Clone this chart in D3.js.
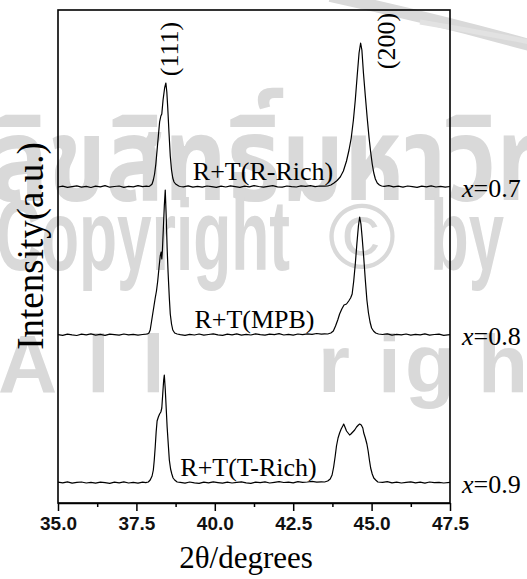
<!DOCTYPE html>
<html>
<head>
<meta charset="utf-8">
<script src="https://cdn.jsdelivr.net/npm/d3@7"></script>
<style>
  html, body { margin: 0; padding: 0; background: #fff; }
  svg { display: block; }
</style>
</head>
<body>
<svg id="chart" width="527" height="579"></svg>
<script>
// XRD patterns of the three compositions, stacked with a vertical offset (a.u.)
const compositions = ["x=0.7", "x=0.8", "x=0.9"];
const phaseLabels = ["R+T(R-Rich)", "R+T(MPB)", "R+T(T-Rich)"];
const offsets = [315, 167, 19];
const xTicks = [35.0, 37.5, 40.0, 42.5, 45.0, 47.5];
const xMinorTicks = [36.25, 38.75, 41.25, 43.75, 46.25];
const reflections = [{ hkl: "(111)", at: 38.55 }, { hkl: "(200)", at: 45.45 }];

// [2θ, intensity] for x = 0.7
const pattern07 = [
  [35.00,1.0],[35.15,1.8],[35.30,0.6],[35.45,1.4],[35.60,2.2],[35.75,0.9],[35.90,1.6],[36.05,0.5],
  [36.20,1.9],[36.35,1.1],[36.50,2.4],[36.65,0.8],[36.80,1.5],[36.95,2.0],[37.10,0.7],[37.25,1.7],
  [37.40,1.2],[37.55,2.3],[37.70,1.4],[37.82,1.8],
  [37.90,1.5],[37.95,2.5],[38.00,4],[38.04,8],[38.08,14],[38.12,24],[38.16,38],[38.20,52],[38.24,66],
  [38.28,72],[38.31,74],[38.35,88],[38.40,100],[38.44,105],[38.47,96],[38.50,80],[38.54,55],[38.58,32],
  [38.62,18],[38.66,10],[38.70,6],[38.75,4],[38.80,3],[38.85,2],[38.90,1.5],
  [39.00,1.2],[39.15,2.1],[39.30,0.8],[39.45,1.6],[39.60,0.9],[39.75,2.0],[39.90,1.3],[40.05,0.6],
  [40.20,1.8],[40.35,1.0],[40.50,2.2],[40.65,1.4],[40.80,0.7],[40.95,1.9],[41.10,1.1],[41.25,2.4],
  [41.40,1.5],[41.55,0.9],[41.70,1.7],[41.85,2.3],[42.00,1.2],[42.15,0.8],[42.30,2.0],[42.45,1.4],
  [42.60,1.0],[42.75,2.1],[42.90,1.6],[43.05,2.4],[43.20,1.3],[43.35,2.0],[43.50,1.8],
  [43.60,2],[43.70,3],[43.80,5],[43.90,7.5],[44.00,11],[44.10,17],[44.20,27],[44.28,38],[44.35,50],
  [44.42,68],[44.48,88],[44.54,112],[44.60,135],[44.65,145],[44.69,138],[44.74,115],[44.80,92],
  [44.86,70],[44.92,50],[44.97,36],[45.02,24],[45.07,15],[45.12,9],[45.18,5],[45.25,3],[45.32,2],
  [45.40,1.6],[45.55,2.3],[45.70,1.1],[45.85,1.8],[46.00,0.9],[46.15,2.0],[46.30,1.4],[46.45,0.7],
  [46.60,1.9],[46.75,1.2],[46.90,2.2],[47.05,1.0],[47.20,1.7],[47.35,0.8],[47.50,1.5]
];

// [2θ, intensity] for x = 0.8
const pattern08 = [
  [35.00,1.4],[35.15,0.7],[35.30,1.9],[35.45,1.1],[35.60,0.5],[35.75,1.8],[35.90,1.2],[36.05,2.1],
  [36.20,0.9],[36.35,1.6],[36.50,0.6],[36.65,1.9],[36.80,1.3],[36.95,0.8],[37.10,2.0],[37.25,1.1],
  [37.40,1.7],[37.55,0.9],[37.70,1.5],[37.80,1.8],
  [37.85,2],[37.90,3],[37.94,6],[37.98,14],[38.02,22],[38.06,30],[38.10,38],[38.14,45],[38.18,55],
  [38.22,68],[38.26,80],[38.29,84],[38.31,77],[38.33,86],[38.36,108],[38.39,130],[38.42,146],
  [38.45,120],[38.48,88],[38.51,64],[38.55,38],[38.58,22],[38.62,12],[38.66,6],[38.72,3],[38.80,2],
  [38.90,1.3],[39.05,0.6],[39.20,1.7],[39.35,1.0],[39.50,2.0],[39.65,0.8],[39.80,1.5],[39.95,2.2],
  [40.10,1.1],[40.25,0.7],[40.40,1.8],[40.55,1.2],[40.70,2.1],[40.85,0.9],[41.00,1.6],[41.15,1.0],
  [41.30,2.2],[41.45,1.4],[41.60,0.8],[41.75,1.9],[41.90,1.3],[42.05,2.3],[42.20,1.0],[42.35,1.7],
  [42.50,0.9],[42.65,2.0],[42.80,1.4],[42.95,2.2],[43.10,1.6],[43.25,2.5],[43.40,1.9],[43.50,2.1],
  [43.60,2],[43.70,3],[43.78,5],[43.85,10],[43.92,16],[43.98,22],[44.05,27],[44.12,31],[44.20,32],
  [44.27,35],[44.33,38],[44.38,42],[44.43,55],[44.48,72],[44.53,92],[44.58,110],[44.62,119],
  [44.66,112],[44.70,98],[44.75,78],[44.80,56],[44.85,36],[44.90,23],[44.95,14],[45.00,8],
  [45.06,5],[45.13,3],[45.22,2],
  [45.35,1.5],[45.50,2.2],[45.65,0.9],[45.80,1.7],[45.95,1.1],[46.10,2.0],[46.25,0.8],[46.40,1.6],
  [46.55,1.2],[46.70,2.1],[46.85,0.9],[47.00,1.5],[47.15,1.9],[47.30,0.7],[47.50,1.3]
];

// [2θ, intensity] for x = 0.9
const pattern09 = [
  [35.00,1.8],[35.15,1.1],[35.30,2.2],[35.45,0.9],[35.60,1.6],[35.75,2.0],[35.90,1.0],[36.05,1.7],
  [36.20,0.8],[36.35,1.9],[36.50,1.3],[36.65,0.7],[36.80,1.8],[36.95,1.2],[37.10,2.1],[37.25,1.0],
  [37.40,1.6],[37.55,0.9],[37.70,1.9],[37.80,1.4],
  [37.88,2],[37.94,4],[38.00,8],[38.04,14],[38.07,24],[38.10,37],[38.13,52],[38.16,63],[38.20,67],
  [38.24,70],[38.28,72],[38.31,76],[38.34,90],[38.37,104],[38.39,109],[38.42,95],[38.45,76],
  [38.48,57],[38.52,38],[38.55,24],[38.59,15],[38.63,10],[38.67,6],[38.72,4],[38.80,2],
  [38.90,1.6],[39.05,0.9],[39.20,2.0],[39.35,1.2],[39.50,0.7],[39.65,1.8],[39.80,1.1],[39.95,2.1],
  [40.10,1.4],[40.25,0.8],[40.40,1.9],[40.55,1.0],[40.70,1.6],[40.85,2.2],[41.00,1.2],[41.15,0.7],
  [41.30,1.8],[41.45,1.3],[41.60,2.1],[41.75,1.0],[41.90,1.7],[42.05,2.4],[42.20,1.5],[42.35,1.9],
  [42.50,1.1],[42.65,2.3],[42.80,1.6],[42.95,2.0],[43.10,2.6],[43.25,1.8],[43.40,2.2],
  [43.50,2],[43.60,3],[43.68,5],[43.74,9],[43.79,17],[43.84,28],[43.88,38],[43.93,46],[43.98,51],
  [44.03,55],[44.08,58],[44.11,60],[44.15,57],[44.20,53],[44.25,51],[44.30,49],[44.34,50],
  [44.40,52],[44.46,54],[44.52,57],[44.58,59],[44.62,60],[44.67,59],[44.72,56],[44.75,51],
  [44.80,46],[44.85,40],[44.89,33],[44.93,24],[44.97,16],[45.02,10],[45.07,6],[45.13,4],[45.20,2],
  [45.35,1.7],[45.50,2.4],[45.65,1.2],[45.80,1.9],[45.95,1.0],[46.10,1.6],[46.25,2.1],[46.40,1.1],
  [46.55,1.8],[46.70,0.9],[46.85,2.0],[47.00,1.3],[47.15,1.7],[47.30,1.0],[47.50,1.6]
];

const patterns = [pattern07, pattern08, pattern09];

const svg = d3.select("#chart");
const plot = { left: 58, right: 450, top: 10, bottom: 503 };

const x = d3.scaleLinear().domain([35, 47.5]).range([plot.left, plot.right]);
const y = d3.scaleLinear().domain([0, 493]).range([plot.bottom, plot.top]);

// Background watermark of the source document
const wmColor = "#d9d9d9";
const wm = svg.append("g").attr("fill", wmColor)
  .attr("font-family", "Liberation Sans, Arial, sans-serif").attr("font-weight", "bold");
wm.append("path")
  .attr("d", "M330,-4 Q440,20 540,48")
  .attr("fill", "none").attr("stroke", wmColor).attr("stroke-width", 12);
wm.append("path")
  .attr("d", "M420,22 Q480,32 540,44")
  .attr("fill", "none").attr("stroke", "#e2e2e2").attr("stroke-width", 5);
wm.append("text").attr("x", -10).attr("y", 200).attr("font-size", 118)
  .attr("font-family", "Noto Sans Thai, Noto Sans, sans-serif")
  .attr("textLength", 1150).attr("lengthAdjust", "spacingAndGlyphs")
  .text("ลิขสิทธิ์มหาวิทยาลัยเชียงใหม่");
wm.append("text").attr("x", -4).attr("y", 270).attr("font-size", 100)
  .attr("textLength", 294).attr("lengthAdjust", "spacingAndGlyphs").text("Copyright");
wm.append("text").attr("x", 328).attr("y", 268).attr("font-size", 92)
  .attr("font-weight", "normal").attr("textLength", 68).attr("lengthAdjust", "spacingAndGlyphs").text("©");
wm.append("text").attr("x", 430).attr("y", 270).attr("font-size", 100)
  .attr("textLength", 74).attr("lengthAdjust", "spacingAndGlyphs").text("by");
const wmRow3 = [["A", -2], ["l", 87], ["l", 142], ["r", 318], ["i", 378], ["g", 405], ["h", 478]];
wm.selectAll("text.row3").data(wmRow3).join("text").attr("class", "row3")
  .attr("x", d => d[1]).attr("y", 392).attr("font-size", 82).text(d => d[0]);

// Frame
svg.append("rect")
  .attr("x", plot.left).attr("y", plot.top)
  .attr("width", plot.right - plot.left).attr("height", plot.bottom - plot.top)
  .attr("fill", "none").attr("stroke", "#000").attr("stroke-width", 1.6);

// Patterns
const line = d3.line()
  .x(d => x(d[0]))
  .curve(d3.curveLinear);

patterns.forEach((p, i) => {
  svg.append("path")
    .datum(p)
    .attr("d", line.y(d => y(d[1] + offsets[i])))
    .attr("fill", "none").attr("stroke", "#000").attr("stroke-width", 1.2)
    .attr("stroke-linejoin", "round");
});

// Bottom axis with major and minor ticks
const axis = svg.append("g").attr("transform", `translate(0,${plot.bottom})`)
  .call(d3.axisBottom(x).tickValues(xTicks).tickFormat(d3.format(".1f")).tickSize(8).tickSizeOuter(0).tickPadding(6));
axis.select(".domain").attr("stroke-width", 1.6);
axis.selectAll(".tick line").attr("stroke-width", 1.5);
axis.selectAll(".tick text").attr("font-family", "Liberation Sans, Arial, sans-serif")
  .attr("font-size", 19).attr("font-weight", "bold").attr("fill", "#111");
const minor = svg.append("g").attr("transform", `translate(0,${plot.bottom})`)
  .call(d3.axisBottom(x).tickValues(xMinorTicks).tickFormat("").tickSize(4).tickSizeOuter(0));
minor.select(".domain").remove();
minor.selectAll(".tick line").attr("stroke-width", 1.5);

const serif = "Liberation Serif, Times New Roman, serif";

// Axis titles
svg.append("text").attr("x", x(41.25) - 8).attr("y", 568)
  .attr("text-anchor", "middle").attr("font-family", serif).attr("font-size", 31)
  .text("2θ/degrees");
svg.append("text").attr("transform", "translate(43,246) rotate(-90)")
  .attr("text-anchor", "middle").attr("font-family", serif).attr("font-size", 37)
  .text("Intensity(a.u.)");

// Phase labels inside the plot
const phaseAt = [39.3, 39.35, 38.9];
phaseLabels.forEach((t, i) => {
  svg.append("text").attr("x", x(phaseAt[i])).attr("y", y(offsets[i]) - 8)
    .attr("font-family", serif).attr("font-size", 26).text(t);
});

// Composition labels to the right of the frame
compositions.forEach((c, i) => {
  const t = svg.append("text").attr("x", plot.right + 12).attr("y", y(offsets[i]) + 9)
    .attr("font-family", serif).attr("font-size", 26);
  t.append("tspan").attr("font-style", "italic").text(c.split("=")[0]);
  t.append("tspan").text("=" + c.split("=")[1]);
});

// Reflection indices
reflections.forEach((r, i) => {
  const cy = i === 0 ? 49 : 41;
  svg.append("text").attr("transform", `translate(${x(r.at)},${cy}) rotate(-90)`)
    .attr("text-anchor", "middle").attr("dy", "0.35em")
    .attr("font-family", serif).attr("font-size", 26).text(r.hkl);
});
</script>
</body>
</html>
